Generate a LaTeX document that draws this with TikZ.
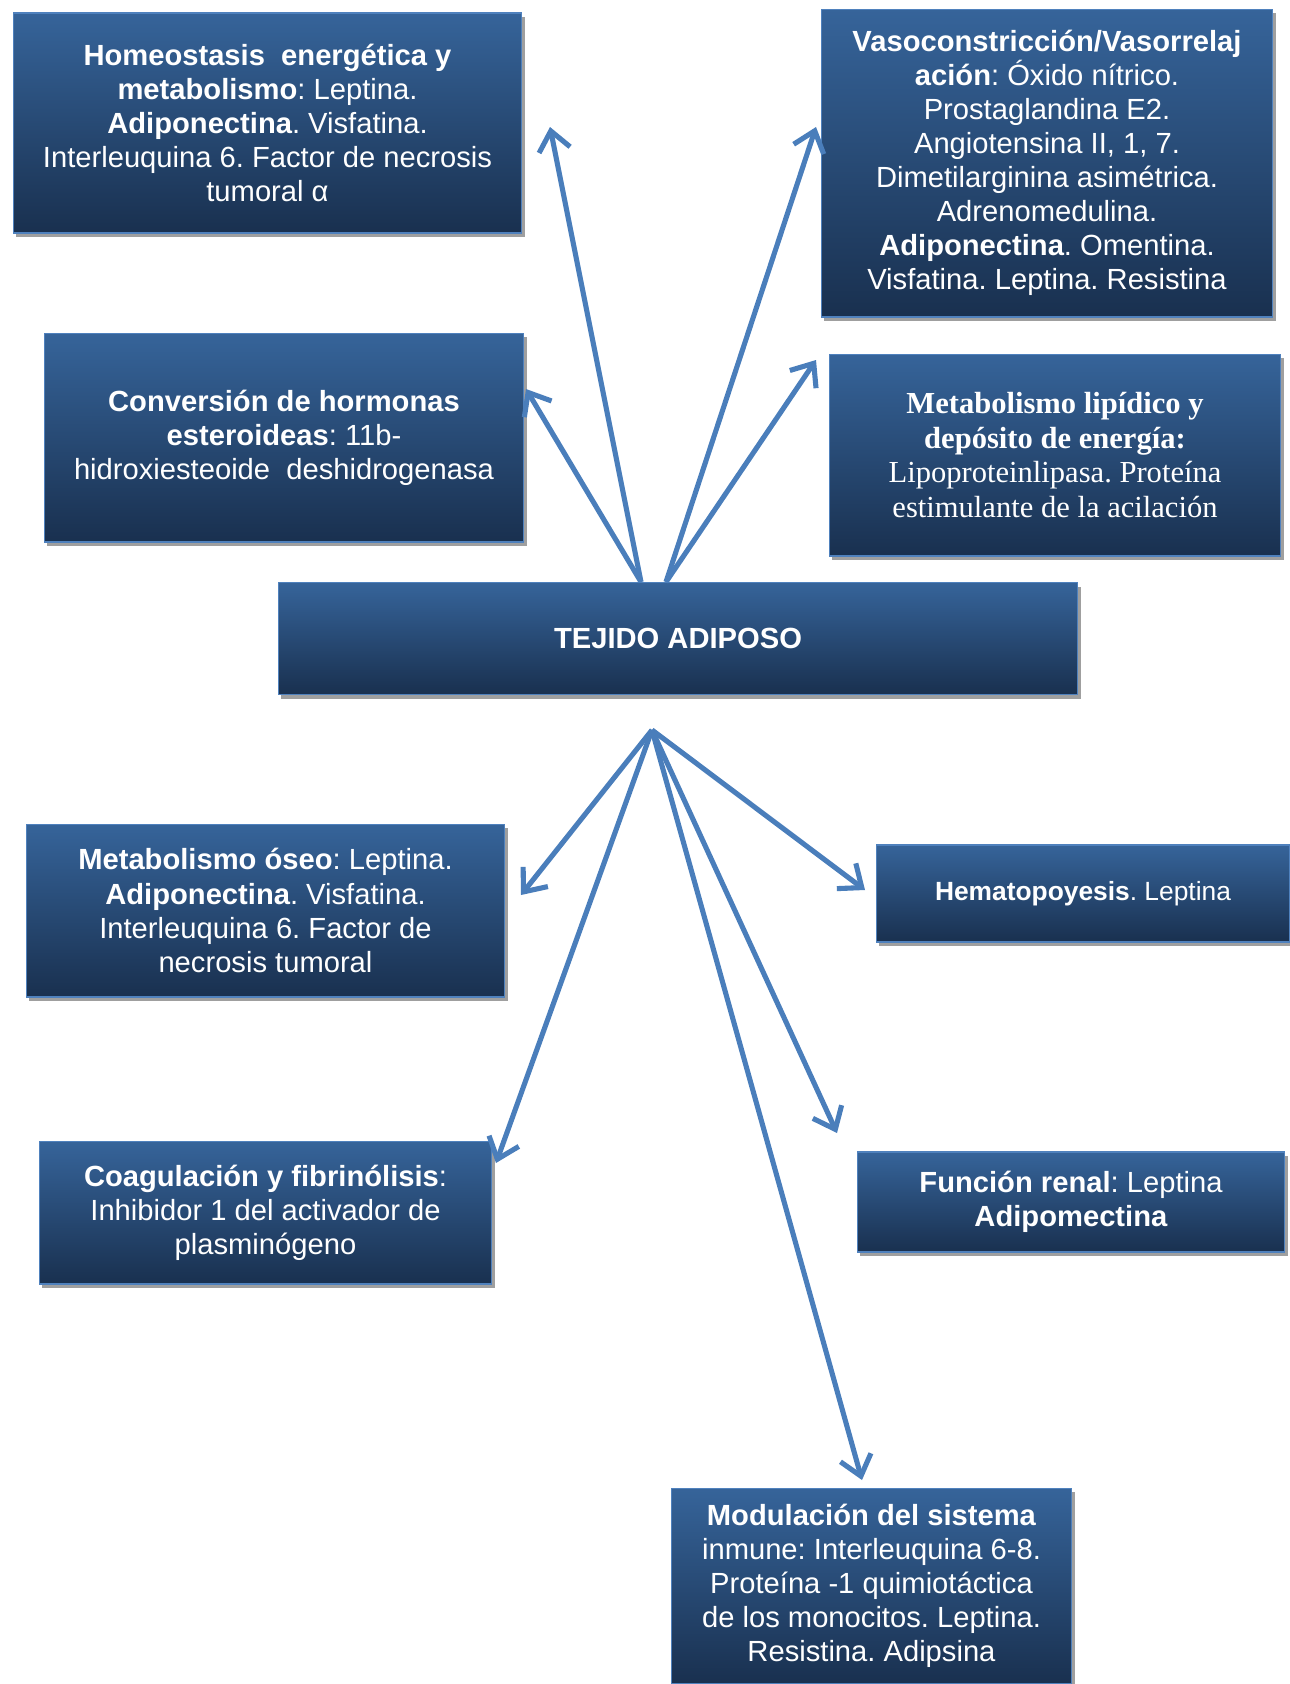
\documentclass[tikz,border=0pt]{standalone}
\usepackage{fontspec}
\setmainfont{Liberation Sans}
\newfontfamily\serifbox{Liberation Serif}
\usetikzlibrary{arrows.meta,shadows}
\frenchspacing
\definecolor{boxtop}{HTML}{36649A}
\definecolor{boxbot}{HTML}{19304F}
\definecolor{boxedge}{HTML}{4F81BD}
\definecolor{linkblue}{HTML}{4A7EBB}
\tikzset{
  infobox/.style={rectangle, top color=boxtop, bottom color=boxbot, draw=boxedge, line width=0.6pt,
    text=white, align=center, inner sep=0pt, font=\fontsize{16.6}{19.4}\selectfont,
    drop shadow={shadow xshift=1.5pt, shadow yshift=-2.5pt, fill=gray!75, opacity=1}},
  link/.style={linkblue, line width=2.9pt, -{Straight Barb[length=11pt,width=18pt]}}
}
\begin{document}
\begin{tikzpicture}[x=0.02cm,y=-0.02cm]
        \useasboundingbox (0,0) rectangle (1290,1684);
        % upper boxes
        \node[infobox, minimum width=10.18cm, minimum height=4.40cm] (homeo) at (267.5,123) {\textbf{Homeostasis\ \ energética y}\\\textbf{metabolismo}: Leptina.\\\textbf{Adiponectina}. Visfatina.\\Interleuquina 6. Factor de necrosis\\tumoral α};
        \node[infobox, minimum width=9.04cm, minimum height=6.16cm] (vaso) at (1047,163) {\textbf{Vasoconstricción/Vasorrelaj}\\\textbf{ación}: Óxido nítrico.\\Prostaglandina E2.\\Angiotensina II, 1, 7.\\Dimetilarginina asimétrica.\\Adrenomedulina.\\\textbf{Adiponectina}. Omentina.\\Visfatina. Leptina. Resistina};
        \node[infobox, minimum width=9.60cm, minimum height=4.18cm] (conv) at (284,437.5) {\textbf{Conversión de hormonas}\\\textbf{esteroideas}: 11b-\\hidroxiesteoide\ \ deshidrogenasa};
        \node[infobox, minimum width=9.04cm, minimum height=4.04cm, font=\serifbox\fontsize{17.4}{19.7}\selectfont] (lipid) at (1055,455) {\textbf{Metabolismo lipídico y}\\\textbf{depósito de energía:}\\Lipoproteinlipasa. Proteína\\estimulante de la acilación};
        % centre
        \node[infobox, minimum width=16.0cm, minimum height=2.24cm] (tejido) at (678,638.5) {\textbf{TEJIDO ADIPOSO}};
        % lower boxes
        \node[infobox, minimum width=9.58cm, minimum height=3.46cm] (oseo) at (265.5,910.5) {\textbf{Metabolismo óseo}: Leptina.\\\textbf{Adiponectina}. Visfatina.\\Interleuquina 6. Factor de\\necrosis tumoral};
        \node[infobox, minimum width=8.28cm, minimum height=1.94cm, font=\fontsize{15}{18}\selectfont] (hemat) at (1083,893.5) {\textbf{Hematopoyesis}. Leptina};
        \node[infobox, minimum width=9.06cm, minimum height=2.86cm] (coag) at (265.5,1212.5) {\textbf{Coagulación y fibrinólisis}:\\Inhibidor 1 del activador de\\plasminógeno};
        \node[infobox, minimum width=8.56cm, minimum height=2.0cm] (renal) at (1071,1202) {\textbf{Función renal}: Leptina\\\textbf{Adipomectina}};
        \node[infobox, minimum width=8.02cm, minimum height=3.92cm] (inmune) at (871.5,1586) {\textbf{Modulación del sistema}\\inmune: Interleuquina 6-8.\\Proteína -1 quimiotáctica\\de los monocitos. Leptina.\\Resistina. Adipsina};
        % arrow ends
        \coordinate (up-l) at ([xshift=-0.74cm]tejido.north);
        \coordinate (up-r) at ([xshift=-0.24cm]tejido.north);
        \coordinate (hub) at (652,730);
        \coordinate (to-homeo) at (550,127);
        \coordinate (to-conv) at (526,389);
        \coordinate (to-vaso) at (816,127);
        \coordinate (to-lipid) at (816,360);
        \coordinate (to-oseo) at (521,895);
        \coordinate (to-coag) at (496,1163);
        \coordinate (to-hemat) at (865,890);
        \coordinate (to-renal) at (837,1133);
        \coordinate (to-inmune) at (862,1480);
        \foreach \t in {homeo,conv} {
            \draw[link] (up-l) -- (to-\t);
        }
        \foreach \t in {vaso,lipid} {
            \draw[link] (up-r) -- (to-\t);
        }
        \foreach \t in {oseo,coag,hemat,renal,inmune} {
            \draw[link] (hub) -- (to-\t);
        }
\end{tikzpicture}
\end{document}
